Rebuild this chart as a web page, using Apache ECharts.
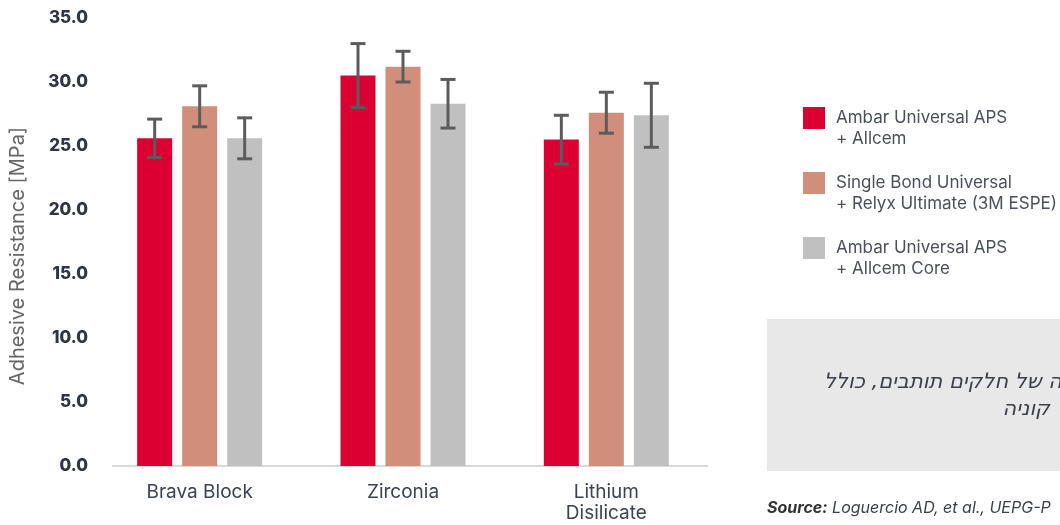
<!DOCTYPE html>
<html>
<head>
<meta charset="utf-8">
<script src="https://cdn.jsdelivr.net/npm/echarts@6/dist/echarts.min.js"></script>
<style>html,body{margin:0;padding:0;background:#fff;}#c{width:1060px;height:525px;}</style>
</head>
<body>
<div id="c"></div>
<script>
// ---- data ----
const categories = ['Brava Block', 'Zirconia', 'Lithium\nDisilicate'];
const seriesNames = ['Ambar Universal APS\n+ Allcem', 'Single Bond Universal\n+ Relyx Ultimate (3M ESPE)', 'Ambar Universal APS\n+ Allcem Core'];
const ambarAllcem = [25.6, 30.5, 25.5];
const singleBond = [28.1, 31.2, 27.6];
const ambarCore = [25.6, 28.3, 27.4];
const ambarAllcemErr = [1.5, 2.5, 1.9];
const singleBondErr = [1.6, 1.2, 1.6];
const ambarCoreErr = [1.6, 1.9, 2.5];
const yTicks = [0, 5, 10, 15, 20, 25, 30, 35];
const yName = 'Adhesive Resistance [MPa]';
const noteLine1 = 'ה של חלקים תותבים, כולל';
const noteLine2 = 'קוניה';
const sourceLabel = 'Source:';
const sourceText = ' Loguercio AD, et al., UEPG-P';

// ---- styles ----
const colors = ['#DC0032', '#D08E7B', '#C0C0C0'];
const font = 'Inter, "Open Sans", sans-serif';
const hebFont = '"DejaVu Sans", sans-serif';
const BAR_W = 35, BAR_STEP = 45;

const values = [ambarAllcem, singleBond, ambarCore];
const errs = [ambarAllcemErr, singleBondErr, ambarCoreErr];

const chart = echarts.init(document.getElementById('c'), null, {renderer: 'canvas'});

const series = [];
values.forEach((v, i) => {
  series.push({
    name: seriesNames[i], type: 'bar', data: v, barWidth: BAR_W, barGap: '28.6%',
    itemStyle: {color: colors[i]}, silent: true
  });
});
values.forEach((v, i) => {
  series.push({
    type: 'custom', silent: true, z: 10,
    data: v.map((m, k) => [k, m + errs[i][k], m - errs[i][k]]),
    renderItem: function (params, api) {
      const hi = api.coord([api.value(0), api.value(1)]);
      const lo = api.coord([api.value(0), api.value(2)]);
      const x = hi[0] + (i - 1) * BAR_STEP;
      const cap = 7.5;
      const st = {stroke: '#5c5c5c', lineWidth: 3};
      return {type: 'group', children: [
        {type: 'line', shape: {x1: x, y1: hi[1], x2: x, y2: lo[1]}, style: st},
        {type: 'line', shape: {x1: x - cap, y1: hi[1], x2: x + cap, y2: hi[1]}, style: st},
        {type: 'line', shape: {x1: x - cap, y1: lo[1], x2: x + cap, y2: lo[1]}, style: st}
      ]};
    }
  });
});

// legend as graphics
const legendGraphics = [];
seriesNames.forEach((n, i) => {
  const top = 107 + i * 65;
  legendGraphics.push({type: 'rect', left: 803, top: top, shape: {width: 22, height: 22}, style: {fill: colors[i]}, silent: true});
  legendGraphics.push({type: 'text', left: 836, top: top, style: {text: n, font: '17px ' + font, fill: '#4a4f5a', lineHeight: 21}, silent: true});
});

chart.setOption({
  animation: false,
  grid: {left: 98, right: 352, top: 18, bottom: 59, containLabel: false},
  xAxis: {
    type: 'category', data: categories,
    axisLine: {show: false}, axisTick: {show: false},
    axisLabel: {color: '#3c4350', fontSize: 19, fontFamily: font, lineHeight: 21, margin: 16}
  },
  yAxis: {
    type: 'value', min: yTicks[0], max: yTicks[yTicks.length - 1], interval: 5,
    splitLine: {show: false}, axisLine: {show: false}, axisTick: {show: false},
    axisLabel: {color: '#2e3440', fontSize: 17, fontWeight: 800, fontFamily: font, margin: 10,
      formatter: v => v.toFixed(1)}
  },
  series: series,
  graphic: [
    {type: 'line', shape: {x1: 112, y1: 466, x2: 708, y2: 466}, style: {stroke: '#d9d9d9', lineWidth: 2}, silent: true},
    {type: 'text', x: 18, y: 256, rotation: Math.PI / 2,
      style: {text: yName, font: '20px ' + font, fill: '#666', align: 'center', verticalAlign: 'middle'}, silent: true},
    ...legendGraphics,
    {type: 'rect', shape: {x: 767, y: 319, width: 300, height: 152}, style: {fill: '#e8e8e8'}, silent: true},
    {type: 'text', x: 1062, y: 383, style: {text: noteLine1, font: 'italic 21px ' + hebFont, fill: '#3a3f4a', align: 'right', verticalAlign: 'middle'}, silent: true},
    {type: 'text', x: 1050, y: 410, style: {text: noteLine2, font: 'italic 21px ' + hebFont, fill: '#3a3f4a', align: 'right', verticalAlign: 'middle'}, silent: true},
    {type: 'text', x: 767, y: 508, style: {
      text: '{b|' + sourceLabel + '}{n|' + sourceText + '}', verticalAlign: 'middle',
      rich: {
        b: {font: 'italic bold 16px ' + font, fill: '#333'},
        n: {font: 'italic 16px ' + font, fill: '#3a3f4a'}
      }}, silent: true}
  ]
});
</script>
</body>
</html>
